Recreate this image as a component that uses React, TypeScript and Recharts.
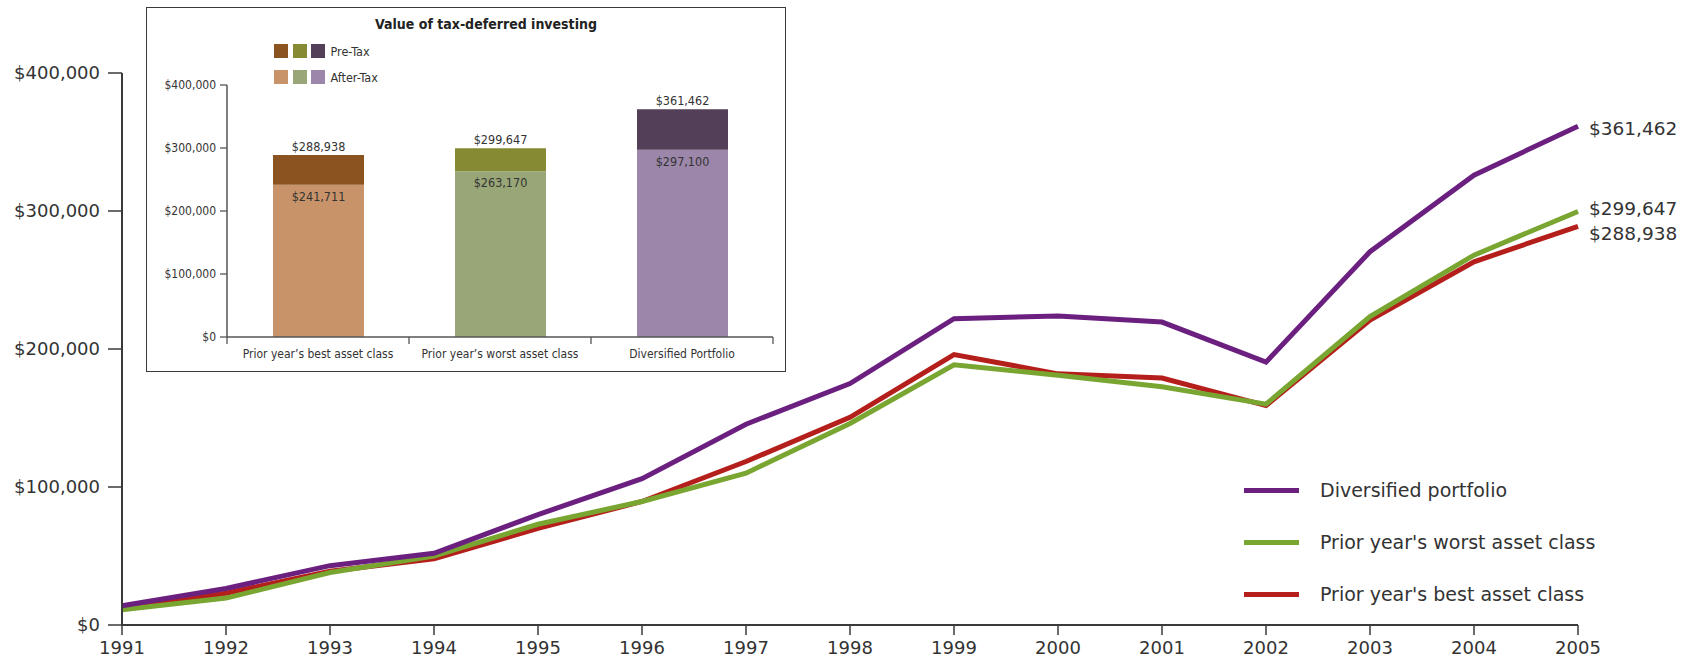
import {
  LineChart,
  Line,
  XAxis,
  YAxis,
  Legend,
  BarChart,
  Bar,
  Cell,
  LabelList,
} from "recharts";

// growth of $10k-ish, 1991-2005
const years = [1991, 1992, 1993, 1994, 1995, 1996, 1997, 1998, 1999, 2000, 2001, 2002, 2003, 2004, 2005];
const diversified = [14000, 26500, 43000, 52000, 80000, 106000, 145500, 175000, 222000, 224000, 219500, 190500, 270500, 326000, 361462];
const worstAsset = [11000, 19500, 38000, 50000, 73000, 89500, 110000, 146000, 188500, 181000, 172700, 160000, 223500, 268000, 299647];
const bestAsset = [12500, 23000, 39000, 48000, 70000, 89500, 118500, 150500, 196000, 182000, 179000, 159000, 221000, 263200, 288938];
const valueTicks = [0, 100000, 200000, 300000, 400000];
const legendOrder = ["diversified", "worst", "best"];

// inset
const categories = ["Prior year\u2019s best asset class", "Prior year\u2019s worst asset class", "Diversified Portfolio"];
const preTax = [288938, 299647, 361462];
const afterTax = [241711, 263170, 297100];

const PURPLE = "#6B2080";
const GREEN = "#79A531";
const RED = "#B51F1B";
const AXIS = "#3a3a3a";
const TEXT = "#333";
const MAIN_FONT = "'DejaVu Sans', Verdana, sans-serif";
const NARROW_FONT = "'Liberation Sans Narrow', 'DejaVu Sans Condensed', 'Roboto', sans-serif";

const preTaxColors = ["#8A531F", "#868B33", "#533F58"];
const afterTaxColors = ["#C9936A", "#99A677", "#9C87AA"];

const lineData = years.map((year, i) => ({
  year,
  diversified: diversified[i],
  worst: worstAsset[i],
  best: bestAsset[i],
}));

const barData = categories.map((category, i) => ({
  category,
  afterTax: afterTax[i],
  gain: preTax[i] - afterTax[i],
  preTax: preTax[i],
}));

const money = (v: number) => `$${Number(v).toLocaleString("en-US")}`;

const endLabel = (dy: number) => (props: any) => {
  if (props.index !== years.length - 1) return <g />;
  const x = props.x ?? props.viewBox?.x;
  const y = props.y ?? props.viewBox?.y;
  return (
    <text x={x + 11} y={y + dy} dominantBaseline="central" fontSize={18.5} fill={TEXT} fontFamily={MAIN_FONT}>
      {money(props.value)}
    </text>
  );
};

function MainLegend({ payload }: any) {
  const items = (payload || [])
    .slice()
    .sort((a: any, b: any) => legendOrder.indexOf(a.dataKey) - legendOrder.indexOf(b.dataKey));
  return (
    <div style={{ fontFamily: MAIN_FONT, fontSize: 19, color: TEXT }}>
      {items.map((p: any) => (
        <div key={p.value} style={{ display: "flex", alignItems: "center", height: 52 }}>
          <div style={{ width: 55, height: 5, background: p.color, marginRight: 21 }} />
          <span>{p.value}</span>
        </div>
      ))}
    </div>
  );
}

function InsetLegend({ payload }: any) {
  const items = (payload || [])
    .slice()
    .sort((a: any, b: any) => (a.dataKey === "gain" ? -1 : 1) - (b.dataKey === "gain" ? -1 : 1));
  return (
    <div style={{ fontFamily: NARROW_FONT, fontSize: 12.5, color: TEXT }}>
      {items.map((p: any) => {
        const colors = p.dataKey === "gain" ? preTaxColors : afterTaxColors;
        return (
          <div key={p.value} style={{ display: "flex", alignItems: "center", height: 26 }}>
            {colors.map((c) => (
              <div key={c} style={{ width: 14, height: 14, background: c, marginRight: 4.5 }} />
            ))}
            <span style={{ marginLeft: 1 }}>{p.value}</span>
          </div>
        );
      })}
    </div>
  );
}

function CategoryTick(props: any) {
  const { x, y, payload, index, visibleTicksCount } = props;
  const half = payload?.offset > 0 ? payload.offset : props.width ? props.width / visibleTicksCount / 2 : 91;
  const axisY = y - 12;
  return (
    <g>
      <line x1={x - half} x2={x - half} y1={axisY} y2={axisY + 7} stroke="#555" strokeWidth={1.3} />
      {index === visibleTicksCount - 1 && (
        <line x1={x + half} x2={x + half} y1={axisY} y2={axisY + 7} stroke="#555" strokeWidth={1.3} />
      )}
      <text x={x} y={y} dy="0.71em" textAnchor="middle" fontSize={12} fill={TEXT} fontFamily={NARROW_FONT}>
        {payload.value}
      </text>
    </g>
  );
}

const TopLabel = (props: any) => {
  const { x, y, width, value } = { ...props.viewBox, ...props };
  return (
    <text x={x + width / 2} y={y - 4} textAnchor="middle" fontSize={12.5} fill={TEXT} fontFamily={NARROW_FONT}>
      {money(value)}
    </text>
  );
};

const InnerLabel = (props: any) => {
  const { x, y, width, height, value } = { ...props.viewBox, ...props };
  const top = height < 0 ? y + height : y;
  return (
    <text x={x + width / 2} y={top + 16} textAnchor="middle" fontSize={12.5} fill={TEXT} fontFamily={NARROW_FONT}>
      {money(value)}
    </text>
  );
};

export default function App() {
  return (
    <div style={{ position: "absolute", left: 0, top: 0, width: 1681, height: 658, background: "#fff", overflow: "hidden" }}>
      <div style={{ position: "absolute", left: 0, top: 0 }}>
        <LineChart width={1681} height={658} data={lineData} margin={{ top: 73, right: 103, bottom: 0, left: 0 }}>
          <XAxis
            dataKey="year"
            type="number"
            domain={[1991, 2005]}
            ticks={years}
            interval={0}
            height={33}
            tickSize={10}
            tickMargin={6}
            axisLine={{ stroke: AXIS, strokeWidth: 2 }}
            tickLine={{ stroke: AXIS, strokeWidth: 1.5 }}
            tick={{ fontSize: 18, fill: TEXT, fontFamily: MAIN_FONT }}
          />
          <YAxis
            type="number"
            domain={[0, 400000]}
            ticks={valueTicks}
            interval={0}
            width={122}
            tickSize={14}
            tickMargin={8}
            tickFormatter={money}
            axisLine={{ stroke: AXIS, strokeWidth: 2 }}
            tickLine={{ stroke: AXIS, strokeWidth: 1.5 }}
            tick={{ fontSize: 18, fill: TEXT, fontFamily: MAIN_FONT }}
          />
          <Line dataKey="best" name="Prior year's best asset class" stroke={RED} strokeWidth={5} dot={false} isAnimationActive={false}>
            <LabelList dataKey="best" content={endLabel(7)} />
          </Line>
          <Line dataKey="worst" name="Prior year's worst asset class" stroke={GREEN} strokeWidth={5} dot={false} isAnimationActive={false}>
            <LabelList dataKey="worst" content={endLabel(-3)} />
          </Line>
          <Line dataKey="diversified" name="Diversified portfolio" stroke={PURPLE} strokeWidth={5} dot={false} isAnimationActive={false}>
            <LabelList dataKey="diversified" content={endLabel(2)} />
          </Line>
          <Legend
            layout="vertical"
            align="center"
            verticalAlign="middle"
            content={<MainLegend />}
            wrapperStyle={{ left: 1244, top: 464, width: 400, height: "auto" }}
          />
        </LineChart>
      </div>

      <div
        style={{
          position: "absolute",
          left: 146,
          top: 7,
          width: 640,
          height: 365,
          background: "#fff",
          border: "1.5px solid #3a3a3a",
          boxSizing: "border-box",
        }}
      />
      <div
        style={{
          position: "absolute",
          left: 373,
          top: 14,
          width: 226,
          textAlign: "center",
          fontFamily: NARROW_FONT,
          fontWeight: "bold",
          fontSize: 14,
          lineHeight: "20px",
          color: "#222",
          whiteSpace: "nowrap",
        }}
      >
        Value of tax-deferred investing
      </div>
      <div style={{ position: "absolute", left: 146, top: 7 }}>
        <BarChart width={640} height={365} data={barData} margin={{ top: 78, right: 13, bottom: 0, left: 1 }}>
          <XAxis
            dataKey="category"
            interval={0}
            height={35}
            tickSize={7}
            tickMargin={5}
            tickLine={false}
            axisLine={{ stroke: "#555", strokeWidth: 1.5 }}
            tick={<CategoryTick />}
          />
          <YAxis
            type="number"
            domain={[0, 400000]}
            ticks={valueTicks}
            interval={0}
            width={80}
            tickSize={7}
            tickMargin={4}
            tickFormatter={money}
            axisLine={{ stroke: "#555", strokeWidth: 1.5 }}
            tickLine={{ stroke: "#555", strokeWidth: 1.3 }}
            tick={{ fontSize: 12, fill: TEXT, fontFamily: NARROW_FONT }}
          />
          <Bar dataKey="afterTax" name="After-Tax" stackId="v" barSize={91} isAnimationActive={false}>
            {barData.map((d, i) => (
              <Cell key={d.category} fill={afterTaxColors[i]} />
            ))}
            <LabelList dataKey="afterTax" content={InnerLabel} />
          </Bar>
          <Bar dataKey="gain" name="Pre-Tax" stackId="v" barSize={91} isAnimationActive={false}>
            {barData.map((d, i) => (
              <Cell key={d.category} fill={preTaxColors[i]} />
            ))}
            <LabelList dataKey="preTax" content={TopLabel} />
          </Bar>
          <Legend
            layout="vertical"
            align="center"
            verticalAlign="middle"
            content={<InsetLegend />}
            wrapperStyle={{ left: 128, top: 31, width: 200, height: "auto" }}
          />
        </BarChart>
      </div>
    </div>
  );
}
